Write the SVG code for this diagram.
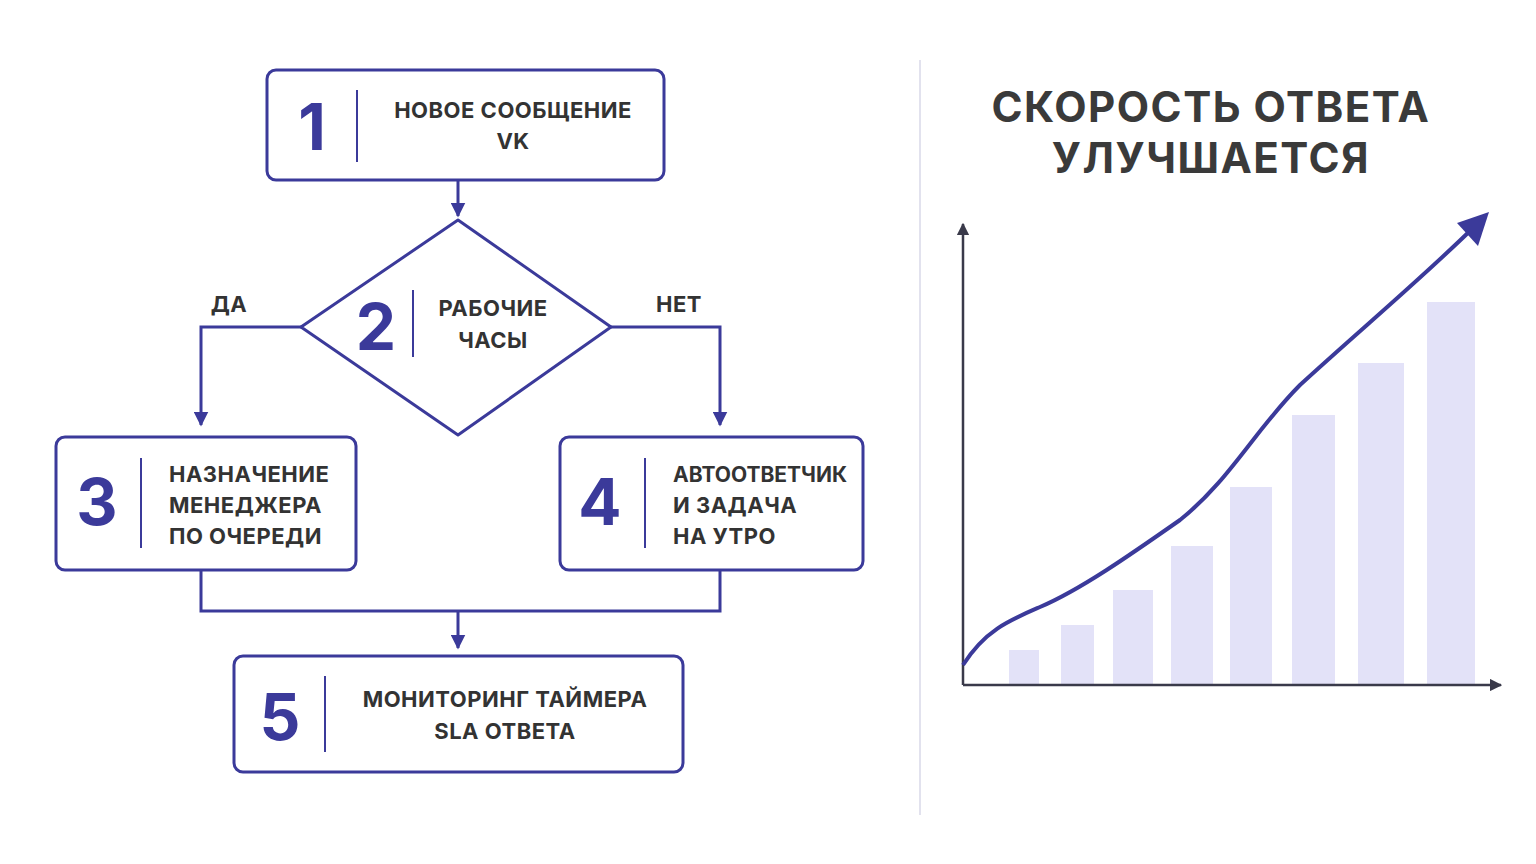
<svg xmlns="http://www.w3.org/2000/svg" width="1536" height="864" viewBox="0 0 1536 864">
<defs>
<style>
.box{fill:#fff;stroke:#3b3a9a;stroke-width:3}
.div{stroke:#3b3a9a;stroke-width:2}
.num{font-family:"Inter","Liberation Sans",sans-serif;font-weight:700;font-size:64px;fill:#3b3a9a;text-anchor:middle}
.t{font-family:"Inter","Liberation Sans",sans-serif;font-weight:700;font-size:22px;fill:#333;letter-spacing:0.5px}
.c{text-anchor:middle}
.ln{fill:none;stroke:#3b3a9a;stroke-width:3}
.bar{fill:#e3e2f8}
</style>
<marker id="a" viewBox="0 0 10 10" refX="9" refY="5" markerWidth="5" markerHeight="5" orient="auto"><path d="M0,0L10,5L0,10z" fill="#3b3a9a"/></marker>
<marker id="ax" viewBox="0 0 10 10" refX="9" refY="5" markerWidth="5" markerHeight="5" orient="auto"><path d="M0,0L10,5L0,10z" fill="#3a3a4a"/></marker>
</defs>
<rect width="1536" height="864" fill="#fff"/>
<g id="connectors">
<path class="ln" d="M458,180V216" marker-end="url(#a)"/>
<path class="ln" d="M301,327H201V425" marker-end="url(#a)"/>
<path class="ln" d="M611,327H720V425" marker-end="url(#a)"/>
<path class="ln" d="M201,570V611H720V570"/>
<path class="ln" d="M458,611V648" marker-end="url(#a)"/>
<text class="t c" x="229" y="312">ДА</text>
<text class="t c" x="679" y="312">НЕТ</text>
</g>
<g id="n1"><rect class="box" x="267" y="70" width="397" height="110" rx="9"/><line class="div" x1="357" y1="90" x2="357" y2="162"/><text class="num" x="312" y="150">1</text><text class="t c" x="513" y="118">НОВОЕ СООБЩЕНИЕ</text><text class="t c" x="513" y="149">VK</text></g>
<g id="n2"><path class="box" d="M458,220L611,327L458,435L301,327Z" stroke-linejoin="round"/><line class="div" x1="413" y1="290" x2="413" y2="357"/><text class="num" x="376" y="350">2</text><text class="t c" x="493" y="316">РАБОЧИЕ</text><text class="t c" x="493" y="348">ЧАСЫ</text></g>
<g id="n3"><rect class="box" x="56" y="437" width="300" height="133" rx="9"/><line class="div" x1="141" y1="458" x2="141" y2="548"/><text class="num" x="97" y="525">3</text><text class="t" x="169" y="482">НАЗНАЧЕНИЕ</text><text class="t" x="169" y="513">МЕНЕДЖЕРА</text><text class="t" x="169" y="544">ПО ОЧЕРЕДИ</text></g>
<g id="n4"><rect class="box" x="560" y="437" width="303" height="133" rx="9"/><line class="div" x1="645" y1="458" x2="645" y2="548"/><text class="num" x="600" y="525">4</text><text class="t" x="673" y="482" style="letter-spacing:0;font-size:21px">АВТООТВЕТЧИК</text><text class="t" x="673" y="513">И ЗАДАЧА</text><text class="t" x="673" y="544">НА УТРО</text></g>
<g id="n5"><rect class="box" x="234" y="656" width="449" height="116" rx="9"/><line class="div" x1="325" y1="676" x2="325" y2="752"/><text class="num" x="280" y="740">5</text><text class="t c" x="505" y="707">МОНИТОРИНГ ТАЙМЕРА</text><text class="t c" x="505" y="739">SLA ОТВЕТА</text></g>
<line x1="920" y1="60" x2="920" y2="815" stroke="#e2e2ee" stroke-width="2"/>
<g id="chart">
<text x="1211" y="122" font-family="Inter,'Liberation Sans',sans-serif" font-weight="700" font-size="42" fill="#3a3a3a" text-anchor="middle" letter-spacing="1.5">СКОРОСТЬ ОТВЕТА</text>
<text x="1211" y="173" font-family="Inter,'Liberation Sans',sans-serif" font-weight="700" font-size="42" fill="#3a3a3a" text-anchor="middle" letter-spacing="1.5">УЛУЧШАЕТСЯ</text>
<rect class="bar" x="1009" y="650" width="30" height="35"/>
<rect class="bar" x="1061" y="625" width="33" height="60"/>
<rect class="bar" x="1113" y="590" width="40" height="95"/>
<rect class="bar" x="1171" y="546" width="42" height="139"/>
<rect class="bar" x="1230" y="487" width="42" height="198"/>
<rect class="bar" x="1292" y="415" width="43" height="270"/>
<rect class="bar" x="1358" y="363" width="46" height="322"/>
<rect class="bar" x="1427" y="302" width="48" height="383"/>
<path d="M963,685V224" stroke="#3a3a4a" stroke-width="2.5" fill="none" marker-end="url(#ax)"/>
<path d="M963,685H1501" stroke="#3a3a4a" stroke-width="2.5" fill="none" marker-end="url(#ax)"/>
<path d="M963,665C985,630 1010,620 1040,607C1080,590 1130,555 1180,520C1230,480 1255,430 1300,385C1360,330 1420,280 1474,227" fill="none" stroke="#3b3a9a" stroke-width="4"/>
<path d="M1489,212L1478,246L1457,223Z" fill="#3b3a9a"/>
</g>
</svg>
